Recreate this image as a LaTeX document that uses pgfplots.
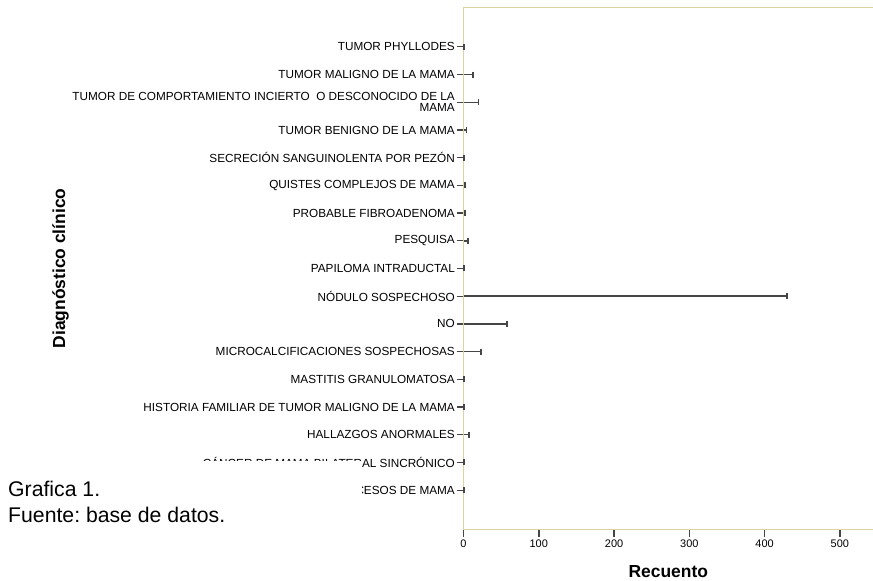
\documentclass[border=0pt]{standalone}
\usepackage{pgfplots}
\pgfplotsset{compat=1.18}
\usepackage{fontspec}
\setmainfont{Liberation Sans}
\frenchspacing
\definecolor{frameline}{RGB}{220,212,160}
\definecolor{barline}{RGB}{70,70,70}

% Recuento por diagnóstico clínico (posición 0 = fila inferior)
\pgfplotstableread{
pos valor
0   1
1   1
2   7
3   1
4   1
5   23
6   58
7   430
8   1
9   6
10  2
11  2
12  1
13  4
14  20
15  13
16  1
}\recuento

\begin{document}
\begin{tikzpicture}
\path[use as bounding box] (0,0) rectangle (873bp,581bp);
\begin{axis}[
  at={(463.5bp,51.5bp)}, anchor=south west,
  scale only axis, width=409.5bp, height=522bp,
  xmin=0, xmax=544, ymin=-1.42, ymax=17.42,
  axis line style={draw=none},
  xtick={0,100,200,300,400,500},
  ytick={0,...,16},
  yticklabels={
    ABSCESOS DE MAMA,
    CÁNCER DE MAMA BILATERAL SINCRÓNICO,
    HALLAZGOS ANORMALES,
    HISTORIA FAMILIAR DE TUMOR MALIGNO DE LA MAMA,
    MASTITIS GRANULOMATOSA,
    MICROCALCIFICACIONES SOSPECHOSAS,
    NO,
    NÓDULO SOSPECHOSO,
    PAPILOMA INTRADUCTAL,
    PESQUISA,
    PROBABLE FIBROADENOMA,
    QUISTES COMPLEJOS DE MAMA,
    SECRECIÓN SANGUINOLENTA POR PEZÓN,
    TUMOR BENIGNO DE LA MAMA,
    {TUMOR DE COMPORTAMIENTO INCIERTO\ \ O DESCONOCIDO DE LA\\MAMA},
    TUMOR MALIGNO DE LA MAMA,
    TUMOR PHYLLODES},
  tick align=outside,
  xtick pos=bottom, ytick pos=left,
  major tick length=7bp,
  xtick style={draw=barline, line width=1.5pt},
  ytick style={draw=barline, line width=1.2pt},
  /pgf/number format/assume math mode=true,
  xticklabel style={font=\fontsize{11}{12}\selectfont, inner ysep=3.5bp},
  yticklabel style={font=\fontsize{11.8}{11}\selectfont, align=right, inner xsep=1.5bp},
  xlabel={Recuento},
  xlabel style={font=\bfseries\fontsize{17.5}{20}\selectfont,
    at={(axis description cs:0.5,0)}, anchor=center, yshift=-42.5bp},
  ylabel={Diagnóstico clínico},
  ylabel style={font=\bfseries\fontsize{17.5}{20}\selectfont,
    at={(axis description cs:-0.984,0.5)}, anchor=center, rotate=0},
  clip=false,
]
\addplot[xcomb, barline, line width=1.5pt, mark=|, mark size=3bp,
  mark options={barline, line width=1.6pt}] table[x=valor, y=pos] {\recuento};
\draw[frameline, line width=1bp] (rel axis cs:0,0) -- (rel axis cs:0,1) -- (rel axis cs:1,1);
\draw[frameline, line width=1bp] (rel axis cs:0,0) -- (rel axis cs:1,0);
\end{axis}
\fill[white] (0,0) rectangle (361.5bp,120.3bp);
\node[anchor=base west, inner sep=0pt, font=\fontsize{21.3}{25}\selectfont] at (8bp,84bp) {Grafica 1.};
\node[anchor=base west, inner sep=0pt, font=\fontsize{21.3}{25}\selectfont] at (8bp,58bp) {Fuente: base de datos.};
\end{tikzpicture}
\end{document}
